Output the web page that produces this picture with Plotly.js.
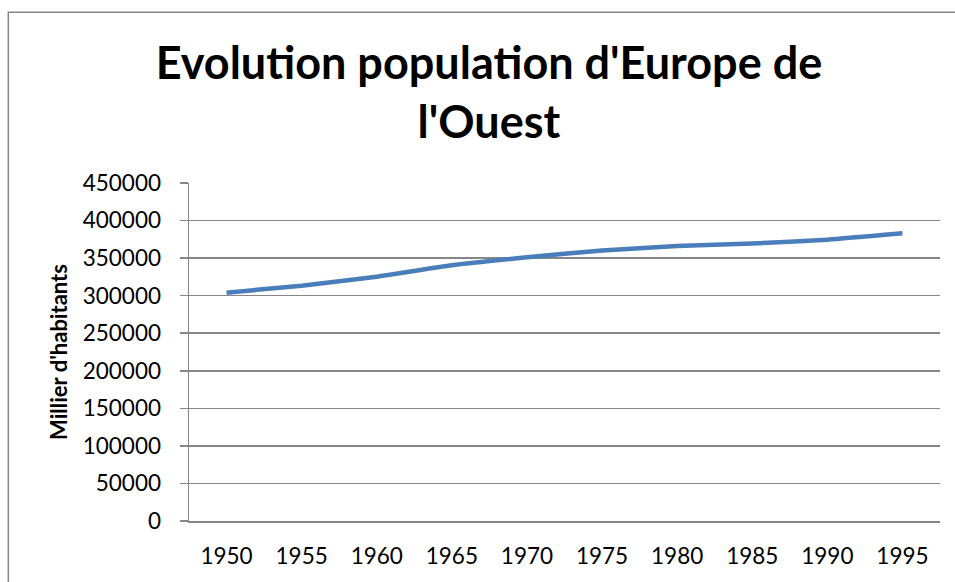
<!DOCTYPE html>
<html>
<head>
<meta charset="utf-8">
<script src="https://cdn.plot.ly/plotly-3.0.1.min.js"></script>
<style>html,body{margin:0;padding:0;background:#fff;}#chart{width:955px;height:582px;}</style>
</head>
<body>
<div id="chart"></div>
<script>
var years = ["1950","1955","1960","1965","1970","1975","1980","1985","1990","1995"];
var population = [304000, 313300, 325300, 340500, 351000, 360200, 366000, 369500, 374500, 383000];
var titleText = "Evolution population d'Europe de<br>l'Ouest";
var yTitle = "Millier d'habitants";

var trace = {
  x: years,
  y: population,
  type: 'scatter',
  mode: 'lines',
  line: {color: '#4A7EBB', width: 4.5, shape: 'spline', smoothing: 0.5},
  hoverinfo: 'x+y'
};

var gray = '#868686';
var layout = {
  width: 955, height: 582,
  margin: {l: 189, r: 15, t: 183, b: 61},
  paper_bgcolor: '#fff', plot_bgcolor: '#fff',
  font: {family: 'Lato, "Open Sans", sans-serif', color: '#000'},
  showlegend: false,
  title: {
    text: titleText,
    font: {family: 'Lato, sans-serif', size: 45, weight: 'bold', color: '#000'},
    x: 0.512, xanchor: 'center', xref: 'container',
    y: 0.864, yanchor: 'top', yref: 'container'
  },
  xaxis: {
    type: 'category',
    range: [-0.5, 9.5],
    showgrid: false,
    showline: true, linecolor: gray, linewidth: 1.5,
    ticks: '',
    ticklabelstandoff: 14,
    tickfont: {size: 22.5, color: '#000'},
    zeroline: false
  },
  yaxis: {
    range: [0, 450000],
    dtick: 50000, tick0: 0,
    tickformat: 'd',
    showgrid: true, gridcolor: gray, gridwidth: 1.5,
    showline: true, linecolor: gray, linewidth: 1.5,
    ticks: 'outside', ticklen: 8, tickcolor: gray, tickwidth: 1.5,
    ticklabelstandoff: 14,
    tickfont: {size: 22.5, color: '#000'},
    zeroline: false,
    title: {text: yTitle, font: {size: 22, weight: 'bold', color: '#000'}, standoff: 9}
  },
  shapes: [{
    type: 'rect', xref: 'paper', yref: 'paper',
    x0: -0.2406, x1: 1.2, y0: -0.4, y1: 1.505,
    line: {color: gray, width: 1.5}, fillcolor: 'rgba(0,0,0,0)', layer: 'above'
  }]
};

Plotly.newPlot('chart', [trace], layout, {displayModeBar: false, staticPlot: true});
</script>
</body>
</html>
